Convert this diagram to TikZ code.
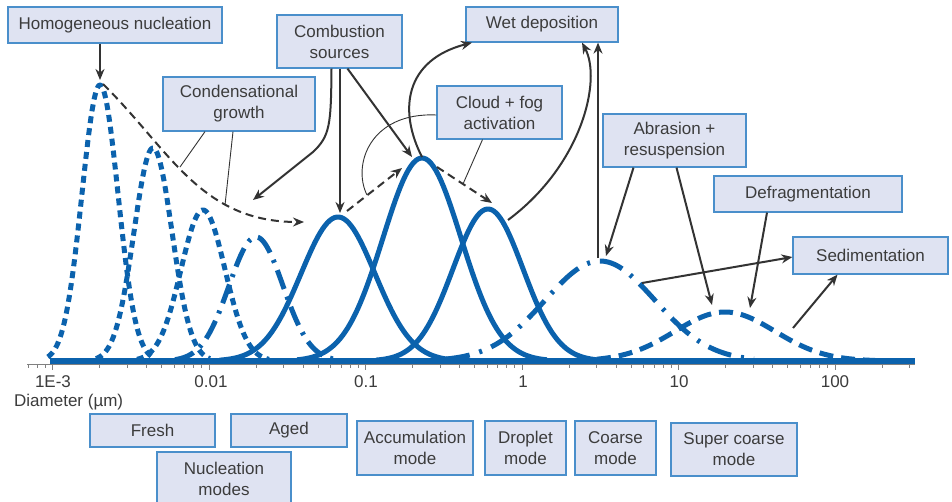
\documentclass[tikz,border=0pt]{standalone}
\usepackage{fontspec}
\setmainfont{Liberation Sans}
\usetikzlibrary{arrows.meta,calc}
\definecolor{boxfill}{HTML}{DFE3F2}
\definecolor{boxline}{HTML}{4A8FCB}
\definecolor{curveblue}{HTML}{0B62AD}
\definecolor{arrowgray}{HTML}{333333}
\definecolor{textgray}{HTML}{3C3C3C}
\newcommand\peakcurve[4]{plot[domain={#1-#4*#3}:{#1+#4*#3}, samples=100] (\x,{361-#2*exp(-0.5*((\x-#1)/#3)^2)})}
\begin{document}
\begin{tikzpicture}[x=1pt,y=-1pt,
  lbl/.style={draw=boxline, fill=boxfill, line width=1.2pt, text=textgray,
    font=\fontsize{17}{21}\selectfont, align=center, inner sep=0pt},
  axlbl/.style={text=textgray, font=\fontsize{17}{21}\selectfont, inner sep=0pt},
  curve/.style={draw=curveblue, line width=5pt, line cap=butt, line join=round},
  nucdash/.style={dash pattern=on 7pt off 5pt},
  ageddd/.style={dash pattern=on 20pt off 8pt on 3pt off 8pt},
  coarsedd/.style={dash pattern=on 24pt off 10pt on 3pt off 10pt},
  superd/.style={dash pattern=on 14pt off 8pt},
  arr/.style={draw=arrowgray, line width=2pt, -{Stealth[length=11pt,width=9pt]}},
  darr/.style={arr, dash pattern=on 8pt off 5pt},
  leader/.style={draw=arrowgray, line width=0.9pt},
  tickmark/.style={draw=gray, line width=0.8pt}
]
\useasboundingbox (0,0) rectangle (952,501);
\clip (0,0) rectangle (952,501);
\fill[white] (0,0) rectangle (952,501);

% axis
\draw[tickmark] (27,364) -- (915,364);
\foreach \k in {0,...,5} \draw[tickmark] ({52.5+156.5*\k},364) -- ++(0,6);
\foreach \k in {0,...,4} \foreach \m in {2,...,9}
  \draw[tickmark] ({52.5+156.5*(\k+ln(\m)/ln(10))},364) -- ++(0,4);
\foreach \m in {7,8,9}
  \draw[tickmark] ({52.5+156.5*(-1+ln(\m)/ln(10))},364) -- ++(0,4);
\foreach \m in {2,3}
  \draw[tickmark] ({52.5+156.5*(5+ln(\m)/ln(10))},364) -- ++(0,4);

% curves
\draw[curve, nucdash] \peakcurve{100}{276}{18}{2.9};
\draw[curve, nucdash] \peakcurve{153}{213}{19}{3};
\draw[curve, nucdash] \peakcurve{203}{151}{22}{3};
\draw[curve, ageddd] \peakcurve{256}{124}{27}{3};
\draw[curve] \peakcurve{338}{144}{37}{3.2};
\draw[curve] \peakcurve{422}{203}{39}{3.2};
\draw[curve] \peakcurve{488}{152}{35}{3.2};
\draw[curve, coarsedd] \peakcurve{600}{100}{55}{2.8};
\draw[curve, superd] \peakcurve{725}{49}{50}{3};
\draw[curveblue, line width=6pt] (50,361) -- (915,361);

% tick labels
\node[axlbl] (t0) at (53,382) {1E-3};
\node[axlbl] (t1) at (211,382) {0.01};
\node[axlbl] (t2) at (366,382) {0.1};
\node[axlbl] (t3) at (523,382) {1};
\node[axlbl] (t4) at (679,382) {10};
\node[axlbl] (t5) at (835,382) {100};
\node[axlbl, anchor=west] (diam) at (14,402) {Diameter (µm)};

% boxes
\node[lbl, minimum width=214pt, minimum height=36pt] (hom) at (115,25) {Homogeneous nucleation};
\node[lbl, minimum width=152pt, minimum height=54pt] (cond) at (239,104) {Condensational\\growth};
\node[lbl, minimum width=125pt, minimum height=53pt] (comb) at (339.5,41.5) {Combustion\\sources};
\node[lbl, minimum width=152pt, minimum height=35pt] (wet) at (542,24.5) {Wet deposition};
\node[lbl, minimum width=125pt, minimum height=53pt] (cloud) at (499.5,112.5) {Cloud + fog\\activation};
\node[lbl, minimum width=143pt, minimum height=53pt] (abr) at (674.5,140.5) {Abrasion +\\resuspension};
\node[lbl, minimum width=188pt, minimum height=36pt] (defr) at (808,194) {Defragmentation};
\node[lbl, minimum width=155pt, minimum height=37pt] (sed) at (870.5,255.5) {Sedimentation};
\node[lbl, minimum width=125pt, minimum height=33pt] (fresh) at (152.5,430.5) {Fresh};
\node[lbl, minimum width=116pt, minimum height=33pt] (aged) at (289,430.5) {Aged};
\node[lbl, minimum width=134pt, minimum height=54pt] (nucl) at (224,479) {Nucleation\\modes};
\node[lbl, minimum width=116pt, minimum height=54pt] (accum) at (415,448) {Accumulation\\mode};
\node[lbl, minimum width=81pt, minimum height=54pt] (drop) at (525.5,448) {Droplet\\mode};
\node[lbl, minimum width=81pt, minimum height=54pt] (coarse) at (615.5,448) {Coarse\\mode};
\node[lbl, minimum width=126pt, minimum height=53pt] (super) at (734,449.5) {Super coarse\\mode};

% coordinates on curves / paths
\coordinate (p1a) at (100,80);
\coordinate (p1b) at (103,84);
\coordinate (g1) at (304,222);
\coordinate (c1) at (180,167);
\coordinate (c2) at (225,205);
\coordinate (ca) at (253,200);
\coordinate (p5a) at (340,213);
\coordinate (p6a) at (412,157);
\coordinate (p5b) at (347,211);
\coordinate (d1) at (402,168);
\coordinate (p6b) at (437,167);
\coordinate (d2) at (492,203);
\coordinate (f1) at (367,195);
\coordinate (f2) at (463,184);
\coordinate (p6c) at (422,157);
\coordinate (p7a) at (508,220);
\coordinate (p8a) at (598,258);
\coordinate (p8b) at (606,256);
\coordinate (p8c) at (642,283);
\coordinate (p9a) at (712,305);
\coordinate (p9b) at (750,308);
\coordinate (p9c) at (793,328);

% arrows
\draw[arr] (hom.south -| p1a) -- (p1a);
\draw[darr] (p1b) .. controls (170,150) and (200,222) .. (g1);
\draw[leader] ([xshift=-34pt]cond.south) -- (c1);
\draw[leader] ([xshift=-6pt]cond.south) -- (c2);

\draw[arr] ([xshift=-8pt]comb.south) .. controls (331,125) and (330,136) .. (313,152) -- (ca);
\draw[arr] (comb.south -| p5a) -- (p5a);
\draw[arr] ([xshift=8pt]comb.south) -- (p6a);

\draw[darr] (p5b) -- (d1);
\draw[darr] (p6b) -- (d2);
\draw[leader] (cloud.west |- 0,115) .. controls (370,112) and (352,165) .. (f1);
\draw[leader] ([xshift=-17pt]cloud.south) -- (f2);

\draw[arr] (p6c) .. controls (398,110) and (405,60) .. ([xshift=-70pt]wet.south);
\draw[arr] (p7a) .. controls (582,165) and (602,80) .. ([xshift=40pt]wet.south);
\draw[arr] (p8a) -- (wet.south -| p8a);

\draw[arr] ([xshift=-41pt]abr.south) -- (p8b);
\draw[arr] ([xshift=2pt]abr.south) -- (p9a);
\draw[arr] ([xshift=-41pt]defr.south) -- (p9b);
\draw[arr] (p8c) -- (sed.west |- 0,257);
\draw[arr] (p9c) -- ([xshift=-33pt]sed.south);
\end{tikzpicture}
\end{document}
